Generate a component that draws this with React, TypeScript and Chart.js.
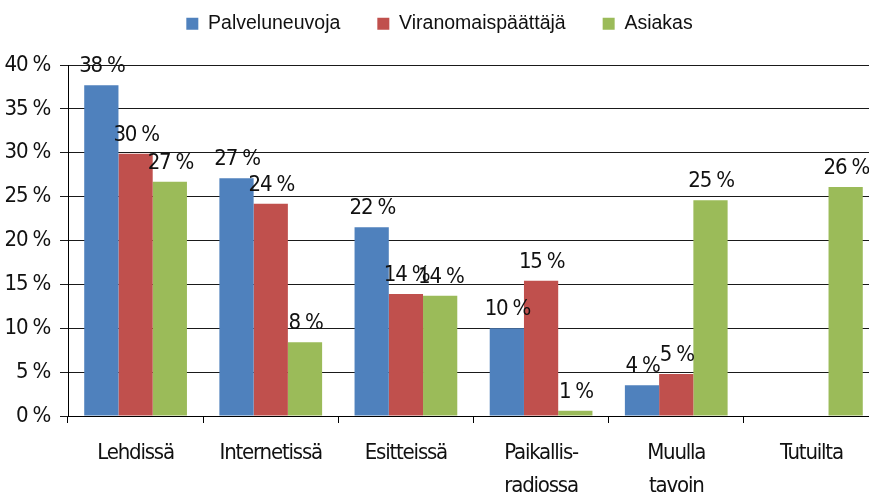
import React, { useEffect, useRef } from 'react';
import { Chart, registerables } from 'chart.js';

Chart.register(...registerables);

const categories: string[][] = [
  ['Lehdissä'],
  ['Internetissä'],
  ['Esitteissä'],
  ['Paikallis-', 'radiossa'],
  ['Muulla', 'tavoin'],
  ['Tutuilta'],
];
const seriesNames = ['Palveluneuvoja', 'Viranomaispäättäjä', 'Asiakas'];
const palveluneuvoja = [37.7, 27.1, 21.5, 10.0, 3.5, 0];
const viranomaispaattaja = [29.9, 24.2, 13.9, 15.4, 4.8, 0];
const asiakas = [26.7, 8.4, 13.7, 0.6, 24.6, 26.1];
const seriesColors = ['#4F81BD', '#C0504D', '#9BBB59'];
const yMin = 0;
const yMax = 40;
const yStep = 5;

const NARROW = "'DejaVu Sans Condensed', 'Liberation Sans Narrow', 'DejaVu Sans', sans-serif";
const REGULAR = "'Liberation Sans', Arial, sans-serif";
const TIGHT = '-1.2px';

const spacingReset = {
  id: 'spacingReset',
  beforeDraw(chart: any) {
    const ctx = chart.ctx;
    if ('letterSpacing' in ctx) ctx.letterSpacing = '0px';
  },
  afterDatasetsDraw(chart: any) {
    const ctx = chart.ctx;
    ctx.save();
    if ('letterSpacing' in ctx) ctx.letterSpacing = TIGHT;
    ctx.font = `22px ${NARROW}`;
    ctx.fillStyle = '#111';
    ctx.textAlign = 'center';
    ctx.textBaseline = 'alphabetic';
    chart.data.datasets.forEach((ds: any, di: number) => {
      const meta = chart.getDatasetMeta(di);
      meta.data.forEach((bar: any, i: number) => {
        const v = ds.data[i];
        if (!v) return;
        ctx.fillText(`${Math.round(v)} %`, bar.x + 0.6, bar.y - 13);
      });
    });
    ctx.restore();
    // tick labels (z = 1) are drawn after this point with tighter spacing
    if ('letterSpacing' in ctx) ctx.letterSpacing = TIGHT;
  },
  afterLayout(chart: any) {
    if (chart.legend) {
      chart.legend.top = -23;
    }
  },
};

export default function App() {
  const ref = useRef<HTMLCanvasElement | null>(null);

  useEffect(() => {
    if (!ref.current) return;
    const chart = new Chart(ref.current, {
      type: 'bar',
      data: {
        labels: categories,
        datasets: [
          { label: seriesNames[0], data: palveluneuvoja, backgroundColor: seriesColors[0] },
          { label: seriesNames[1], data: viranomaispaattaja, backgroundColor: seriesColors[1] },
          { label: seriesNames[2], data: asiakas, backgroundColor: seriesColors[2] },
        ],
      },
      options: {
        animation: false,
        responsive: true,
        maintainAspectRatio: false,
        datasets: {
          bar: { categoryPercentage: 0.76, barPercentage: 1.0 },
        },
        layout: { padding: { top: 0, left: 0, right: 6, bottom: 0 } },
        plugins: {
          tooltip: { enabled: false },
          legend: {
            display: true,
            position: 'top',
            maxHeight: 65,
            labels: {
              boxWidth: 12,
              boxHeight: 12,
              padding: 37,
              color: '#111',
              font: { family: REGULAR, size: 19.5 },
            },
          },
        },
        scales: {
          x: {
            grid: {
              offset: true,
              drawOnChartArea: false,
              drawTicks: true,
              tickLength: 7,
              color: '#000',
            },
            border: { display: true, color: '#000', width: 1 },
            ticks: {
              z: 1,
              color: '#111',
              padding: 14,
              maxRotation: 0,
              autoSkip: false,
              font: { family: NARROW, size: 22, lineHeight: 1.48 },
            },
            afterFit: (scale: any) => {
              scale.height = 80;
            },
          },
          y: {
            min: yMin,
            max: yMax,
            grid: {
              color: '#1a1a1a',
              tickLength: 8,
              drawTicks: true,
            },
            border: { display: true, color: '#000', width: 1 },
            ticks: {
              z: 1,
              stepSize: yStep,
              color: '#111',
              padding: 10,
              font: { family: NARROW, size: 22 },
              callback: (v: any) => `${v} %`,
            },
            afterFit: (scale: any) => {
              scale.width = 68;
            },
          },
        },
      },
      plugins: [spacingReset],
    });
    return () => chart.destroy();
  }, []);

  return (
    <div style={{ position: 'fixed', left: 0, top: 0, width: 869, height: 496, overflow: 'hidden', background: '#fff' }}>
      <div style={{ position: 'relative', width: 885, height: 496 }}>
        <canvas ref={ref} />
      </div>
    </div>
  );
}
